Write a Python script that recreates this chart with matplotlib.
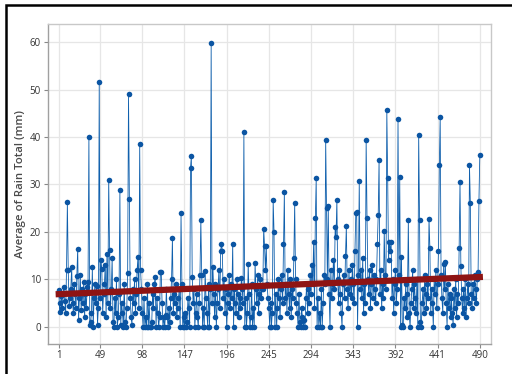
import numpy as np
import matplotlib
matplotlib.use("Agg")
import matplotlib.pyplot as plt
from matplotlib.patches import Rectangle

rain = [
    7.8, 3.2, 5, 6.5, 4, 7, 8.3, 5.5, 3, 12,
    26.3, 12, 4.5, 6, 8, 12.6, 5, 3, 9, 7,
    4, 10.8, 16.5, 1.5, 6, 11, 3.5, 8, 5, 9.5,
    2, 7, 4, 8.3, 9.5, 40, 0.5, 1, 3, 12.6,
    0, 6, 9, 5, 8.6, 0.5, 4, 51.5, 6, 14,
    12.2, 3, 7, 9, 13.1, 2, 15.3, 5, 31, 16.1,
    4, 8, 14.5, 1, 0, 6, 3, 10, 0, 2,
    7, 28.8, 0.5, 5, 3, 0, 9, 1, 0, 4,
    11.4, 49, 27, 6, 2, 0.5, 8, 5, 10, 3,
    7, 12, 14.7, 4, 38.5, 12, 8, 3, 0, 6,
    0, 2, 0, 9, 0, 5, 0, 0, 1, 7,
    4, 9, 10.5, 0, 6, 3, 0, 2, 11.5, 11.6,
    5, 0, 2, 0, 2.5, 8, 2, 0, 4, 1,
    6, 10, 18.7, 3, 7, 5, 9, 2, 4, 6,
    8, 0, 24, 9, 0, 2, 0, 3, 0, 1,
    6, 4, 0, 33.5, 36, 10.6, 5, 8, 0, 3,
    7, 2, 0, 5, 11, 22.5, 11, 0, 4, 0,
    11.7, 6, 3, 0, 9, 0, 8, 59.7, 5, 12.6,
    7, 2, 9, 0, 5, 8, 12, 4, 16, 17.5,
    16, 6, 10, 3, 8, 0, 5, 7, 11, 4,
    9, 6, 17.4, 0, 8, 5, 3, 10, 7, 2,
    6, 4, 10.4, 8, 5, 41, 0, 6, 0, 3,
    13.3, 7, 0, 2, 9, 0, 4, 0, 13.4, 8,
    5, 11, 3, 7, 10, 6, 8, 8, 20.7, 17,
    12, 17, 9, 6, 4, 0, 5, 0, 3, 26.7,
    20, 0, 7, 0, 4, 10, 6, 2, 8, 11,
    5, 17.5, 28.4, 6, 9, 3, 12, 7, 4, 10,
    2, 8, 6, 14.5, 26, 10, 5, 3, 0, 7,
    1, 0, 4, 2, 0, 1.5, 0, 6, 9, 3,
    8, 5, 11, 7, 13, 9, 17.8, 4, 22.9, 31.3,
    0, 6, 0, 3, 0, 8, 0, 5, 11, 9,
    39.3, 25, 10, 25.5, 7, 0, 12, 6, 9, 14,
    8, 21, 19, 26.8, 10, 5, 12, 7, 3, 0,
    9, 11, 6, 15, 21.2, 8, 4, 12, 7, 10,
    6, 13, 9, 5, 16, 24, 24.3, 0, 11, 30.7,
    8, 12, 6, 14.5, 3, 9, 5, 39.4, 23, 10,
    7, 12, 4, 9, 13, 6, 11, 8, 5, 10,
    17.5, 23.5, 35.1, 7, 12, 4, 9, 6, 20.3, 11,
    8, 45.7, 31.3, 14, 17.8, 16, 17.8, 6, 10, 3,
    9, 12, 5, 8, 43.8, 11, 31.6, 0, 14.8, 0.5,
    0, 6, 4, 9, 2, 7, 22.6, 3, 0, 5,
    8, 12, 4, 9, 6, 3, 10, 0, 40.5, 22.6,
    1, 0, 5, 8, 3, 11, 7, 4, 9, 6,
    22.8, 16.7, 3, 8, 5, 0, 10, 7, 12, 4,
    9, 16, 34, 44.2, 11, 6, 3, 13.3, 8, 13.6,
    5, 0, 9, 4, 7, 2, 6, 3, 0.5, 8,
    4, 10, 2, 7, 5, 16.6, 30.6, 12.8, 6, 3,
    8, 4, 10, 2, 6, 9, 5, 34, 26.2, 7,
    4, 9, 6, 11, 8, 5, 10, 11.5, 26.6, 36.3,
]
index = list(range(1, len(rain) + 1))
trend_x = [1, 490]
trend_y = [6.9, 10.5]
x_ticks = [1, 49, 98, 147, 196, 245, 294, 343, 392, 441, 490]
y_ticks = [0, 10, 20, 30, 40, 50, 60]
y_label = "Average of Rain Total (mm)"

plt.rcParams['font.family'] = ['Open Sans', 'DejaVu Sans']

fig = plt.figure(figsize=(5.12, 3.74), dpi=100)
fig.patch.set_facecolor('white')
fig.patches.append(Rectangle((5.5/512, -0.1), 1.2, (374-5.5)/374 + 0.1,
                             transform=fig.transFigure, fill=False,
                             edgecolor='black', linewidth=1.8, zorder=0))

ax = fig.add_axes([48/512, (374-343.5)/374, (491-48)/512, (343.5-24)/374])
ax.set_facecolor('white')

ax.plot(index, rain, color='#1060ad', linewidth=0.6, marker='o',
        markersize=4.0, markeredgewidth=0, markerfacecolor='#0b55a3', zorder=3)
ax.plot(trend_x, trend_y, color='#8e1414', linewidth=4.5,
        solid_capstyle='projecting', zorder=4)

ax.set_xlim(-11.5, 503)
ax.set_ylim(-3.5, 63.8)
ax.set_xticks(x_ticks)
ax.set_yticks(y_ticks)
ax.grid(True, color='#e6e6e6', linewidth=0.9, zorder=0)
ax.set_axisbelow(True)
for s in ax.spines.values():
    s.set_color('#c8c8c8')
    s.set_linewidth(1.0)
ax.spines['left'].set_color('#a0a0a0')
ax.spines['bottom'].set_color('#a0a0a0')
ax.tick_params(axis='both', length=3, width=0.8, color='#888888',
               labelsize=7, labelcolor='#333333', pad=2)
ax.set_ylabel(y_label, fontsize=8.2, color='#4a4a4a', fontweight='semibold',
              labelpad=3)

fig.savefig('out.png', dpi=100)
